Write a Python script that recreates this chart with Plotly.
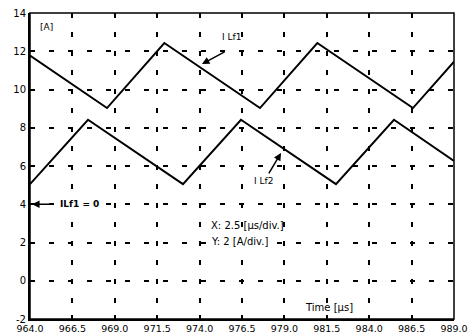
import plotly.graph_objects as go

# ---- data ----
t_ilf1 = [964.0, 968.54, 971.92, 977.56, 980.94, 986.58, 989.0]
i_ilf1 = [11.77, 9.03, 12.43, 9.03, 12.43, 9.03, 11.45]

t_ilf2 = [964.0, 967.42, 973.02, 976.44, 982.04, 985.46, 989.0]
i_ilf2 = [5.05, 8.42, 5.05, 8.42, 5.05, 8.42, 6.27]

x_tickvals = [964.0, 966.5, 969.0, 971.5, 974.0, 976.5, 979.0, 981.5, 984.0, 986.5, 989.0]
x_ticktext = ["964.0", "966.5", "969.0", "971.5", "974.0", "976.5", "979.0", "981.5", "984.0", "986.5", "989.0"]
y_tickvals = [-2, 0, 2, 4, 6, 8, 10, 12, 14]
y_ticktext = ["-2", "0", "2", "4", "6", "8", "10", "12", "14"]

FONT = "DejaVu Sans"

fig = go.Figure()
fig.add_trace(go.Scatter(x=t_ilf1, y=i_ilf1, mode="lines",
                         line=dict(color="black", width=2), showlegend=False))
fig.add_trace(go.Scatter(x=t_ilf2, y=i_ilf2, mode="lines",
                         line=dict(color="black", width=2), showlegend=False))

grid = dict(showgrid=True, gridcolor="black", gridwidth=2, griddash="5px,14px",
            zeroline=False, showline=True, linecolor="black", linewidth=2,
            ticks="inside", ticklen=4, tickwidth=2, tickcolor="black",
            automargin=False, ticklabeloverflow="allow")

fig.update_xaxes(range=[964, 989], tickmode="array", tickvals=x_tickvals,
                 ticktext=x_ticktext, ticklabelstandoff=0,
                 tickfont=dict(family=FONT, size=9.5, color="black"), **grid)
fig.update_yaxes(range=[-2, 14], tickmode="array", tickvals=y_tickvals,
                 ticktext=y_ticktext,
                 tickfont=dict(family=FONT, size=10, color="black"), **grid)

# thin top/right border
fig.add_shape(type="rect", xref="x domain", yref="y domain", x0=0, x1=1, y0=0, y1=1,
              line=dict(color="black", width=1.5), layer="above")

afont = dict(family=FONT, size=9, color="black")
bfont = dict(family=FONT, size=10, color="black")
ann = []
ann.append(dict(x=965.0, y=13.27, text="[A]", showarrow=False, font=afont))
ann.append(dict(x=975.91, y=12.72, text="I Lf1", showarrow=False, font=afont))
ann.append(dict(x=974.14, y=11.33, ax=975.56, ay=12.01, axref="x", ayref="y",
                text="", showarrow=True, arrowhead=2, arrowsize=1, arrowwidth=1.5,
                arrowcolor="black"))
ann.append(dict(x=977.77, y=5.22, text="I Lf2", showarrow=False, font=afont))
ann.append(dict(x=978.80, y=6.68, ax=978.03, ay=5.53, axref="x", ayref="y",
                text="", showarrow=True, arrowhead=2, arrowsize=1, arrowwidth=1.5,
                arrowcolor="black"))
ann.append(dict(x=965.65, y=4.0, text="<b>ILf1 = 0</b>", showarrow=False,
                xanchor="left", font=afont, bgcolor="white"))
ann.append(dict(x=964.12, y=4.0, ax=965.5, ay=4.0, axref="x", ayref="y",
                text="", showarrow=True, arrowhead=2, arrowsize=1, arrowwidth=1.5,
                arrowcolor="black"))
ann.append(dict(x=974.55, y=2.915, text="X: 2.5 [μs/div.]", showarrow=False,
                xanchor="left", font=bfont))
ann.append(dict(x=974.55, y=2.03, text="Y: 2 [A/div.]", showarrow=False,
                xanchor="left", font=bfont, bgcolor="white"))
ann.append(dict(x=980.10, y=-1.42, text="Time [μs]", showarrow=False,
                xanchor="left", font=bfont))

fig.update_layout(width=471, height=334, autosize=False,
                  margin=dict(l=30, r=17, t=13, b=15),
                  paper_bgcolor="white", plot_bgcolor="white",
                  annotations=ann, showlegend=False)

# remove the default 8 px page margin so the figure fills the window exactly
fig.write_html("out.html", config={"displayModeBar": False},
               post_script="document.body.style.margin='0';document.body.style.overflow='hidden';")
